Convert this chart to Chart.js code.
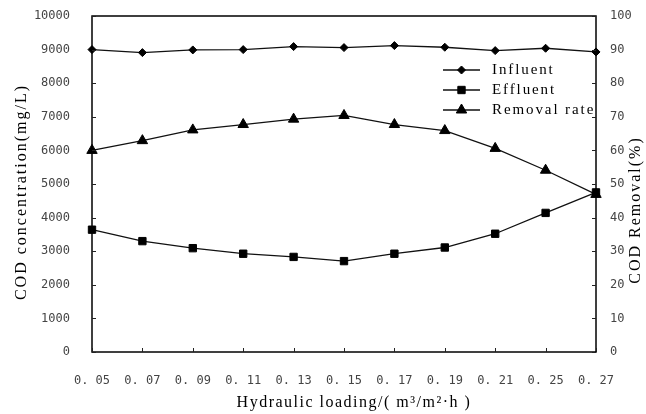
<!DOCTYPE html>
<html>
<head>
<meta charset="utf-8">
<script src="https://cdn.jsdelivr.net/npm/chart.js@4/dist/chart.umd.min.js"></script>
<style>
html,body{margin:0;padding:0;background:#fff;}
#wrap{width:646px;height:414px;position:relative;}
</style>
</head>
<body>
<div id="wrap"><canvas id="c" width="646" height="414"></canvas></div>
<script>
const categories = ['0. 05','0. 07','0. 09','0. 11','0. 13','0. 15','0. 17','0. 19','0. 21','0. 25','0. 27'];
const influent = [9000, 8910, 8990, 9000, 9090, 9060, 9120, 9070, 8970, 9040, 8930];
const effluent = [3640, 3300, 3090, 2925, 2830, 2705, 2925, 3110, 3520, 4140, 4750];
const removalRate = [60, 62.9, 66.1, 67.7, 69.3, 70.4, 67.7, 65.9, 60.6, 54.1, 46.9];
const seriesNames = ['Influent', 'Effluent', 'Removal rate'];
const leftTitle = 'COD concentration(mg/L)';
const rightTitle = 'COD Removal(%)';
const xTitle = 'Hydraulic loading/( m\u00B3/m\u00B2\u00B7h )';

const LINE = '#111';
const TICKCOLOR = '#444';
const TICKFONT = {family: "'DejaVu Sans Mono', monospace", size: 12};
const SERIF16 = "16px 'Liberation Serif', 'DejaVu Serif', serif";
const SERIF15 = "15px 'Liberation Serif', 'DejaVu Serif', serif";

function spaced(ctx, text, x, y, spacing){
  ctx.letterSpacing = spacing + 'px';
  ctx.fillText(text, x, y);
  ctx.letterSpacing = '0px';
}

const decor = {
  id: 'decor',
  afterDraw(chart){
    const ctx = chart.ctx, a = chart.chartArea;
    const sx = chart.scales.x, yl = chart.scales.y, yr = chart.scales.y1;
    ctx.save();
    ctx.strokeStyle = '#000'; ctx.lineWidth = 1.5;
    ctx.strokeRect(a.left, a.top, a.right - a.left, a.bottom - a.top);
    ctx.lineWidth = 1; ctx.strokeStyle = '#222';
    ctx.beginPath();
    yl.ticks.forEach((t,i)=>{const p = Math.round(yl.getPixelForTick(i))+0.5; ctx.moveTo(a.left, p); ctx.lineTo(a.left+4, p);});
    yr.ticks.forEach((t,i)=>{const p = Math.round(yr.getPixelForTick(i))+0.5; ctx.moveTo(a.right, p); ctx.lineTo(a.right-4, p);});
    sx.ticks.forEach((t,i)=>{const p = Math.round(sx.getPixelForTick(i))+0.5; ctx.moveTo(p, a.bottom); ctx.lineTo(p, a.bottom-4);});
    ctx.stroke();
    ctx.fillStyle = '#000'; ctx.font = SERIF16;
    ctx.textAlign = 'center'; ctx.textBaseline = 'middle';
    ctx.save(); ctx.translate(22, 192); ctx.rotate(-Math.PI/2); spaced(ctx, leftTitle, 0, 0, 2); ctx.restore();
    ctx.save(); ctx.translate(636, 210); ctx.rotate(-Math.PI/2); spaced(ctx, rightTitle, 0, 0, 2); ctx.restore();
    spaced(ctx, xTitle, 354, 403, 1.5);
    ctx.font = SERIF15;
    const lx = 443, lw = 37, ly0 = 70, dy = 20;
    chart.data.datasets.forEach((ds, i)=>{
      const y = ly0 + i*dy;
      ctx.strokeStyle = LINE; ctx.lineWidth = 1.3;
      ctx.beginPath(); ctx.moveTo(lx, y); ctx.lineTo(lx+lw, y); ctx.stroke();
      ctx.fillStyle = '#000'; ctx.strokeStyle = '#000'; ctx.lineWidth = 1;
      Chart.helpers.drawPoint(ctx, {pointStyle: ds.pointStyle, radius: ds.pointRadius, rotation: 0, borderWidth: 1}, lx+lw/2, y);
      ctx.textAlign = 'left';
      spaced(ctx, ds.label, 492, y, 1.9);
    });
    ctx.restore();
  }
};

function fixV(w){ return s => { s.width = w; s.paddingTop = 0; s.paddingBottom = 0; }; }

new Chart(document.getElementById('c'), {
  type: 'line',
  data: {
    labels: categories,
    datasets: [
      {label: seriesNames[0], data: influent, yAxisID: 'y', pointStyle: 'rectRot', pointRadius: 4},
      {label: seriesNames[1], data: effluent, yAxisID: 'y', pointStyle: 'rect', pointRadius: 5.2},
      {label: seriesNames[2], data: removalRate, yAxisID: 'y1', pointStyle: 'triangle', pointRadius: 6}
    ].map(d => Object.assign({
      borderColor: LINE, backgroundColor: '#000', pointBackgroundColor: '#000', pointBorderColor: '#000',
      borderWidth: 1.3, pointBorderWidth: 1, tension: 0, pointHoverRadius: 0
    }, d))
  },
  options: {
    responsive: false, animation: false,
    layout: {padding: {left: 0, right: 0, top: 16, bottom: 0}},
    plugins: {legend: {display: false}, tooltip: {enabled: false}},
    scales: {
      x: {
        offset: false,
        grid: {display: false, drawTicks: false}, border: {display: false},
        ticks: {color: TICKCOLOR, font: TICKFONT, padding: 22, maxRotation: 0, autoSkip: false},
        afterFit(s){ s.height = 62; s.paddingLeft = 0; s.paddingRight = 0; }
      },
      y: {
        position: 'left', min: 0, max: 10000,
        grid: {display: false, drawTicks: false}, border: {display: false},
        ticks: {color: TICKCOLOR, font: TICKFONT, padding: 22, stepSize: 1000, format: {useGrouping: false}},
        afterFit: fixV(92)
      },
      y1: {
        position: 'right', min: 0, max: 100,
        grid: {display: false, drawTicks: false}, border: {display: false},
        ticks: {color: TICKCOLOR, font: TICKFONT, padding: 14, stepSize: 10, format: {useGrouping: false}},
        afterFit: fixV(50)
      }
    }
  },
  plugins: [decor]
});
</script>
</body>
</html>
